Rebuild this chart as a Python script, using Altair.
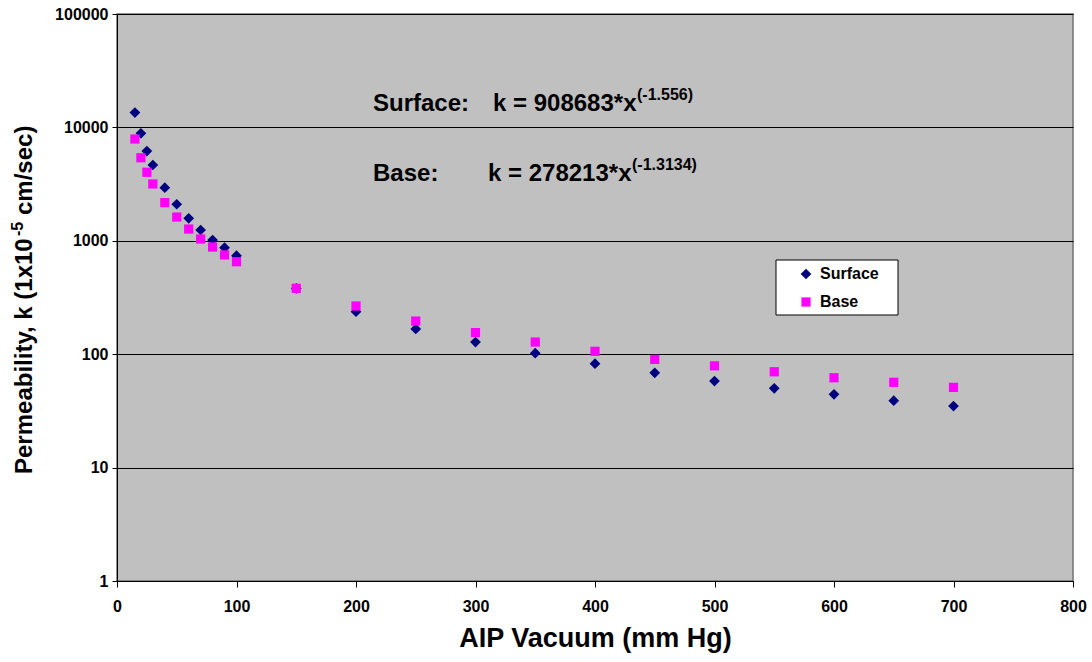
import altair as alt
import pandas as pd

# ---- data ----
vacuum = [15, 20, 25, 30, 40, 50, 60, 70, 80, 90, 100, 150, 200, 250, 300,
          350, 400, 450, 500, 550, 600, 650, 700]
surface_k = [13500, 8870, 6190, 4660, 2940, 2100, 1580, 1245, 1016, 869, 739,
             380, 237, 167, 128, 102, 82.5, 68.5, 58, 50, 44.3, 38.9, 34.9]
base_k = [7900, 5400, 4020, 3170, 2170, 1620, 1270, 1037, 881, 750, 654,
          381, 266, 196, 155, 128, 106, 90, 79, 70, 62, 56.5, 51]

series_names = ["Surface", "Base"]
series_colors = ["#000080", "#FF00FF"]
series_shapes = ["diamond", "square"]
series_sizes = [115, 85]

x_ticks = [0, 100, 200, 300, 400, 500, 600, 700, 800]
y_ticks = [1, 10, 100, 1000, 10000, 100000]

FONT = "Liberation Sans"

df = pd.DataFrame({
    "vacuum": vacuum + vacuum,
    "k": surface_k + base_k,
    "series": [series_names[0]] * len(vacuum) + [series_names[1]] * len(vacuum),
})

legend = alt.Legend(
    title=None, orient="none", legendX=659, legendY=246,
    padding=6, rowPadding=12,
    symbolOffset=16, labelOffset=6, symbolSize=90, symbolStrokeWidth=0,
    labelFont=FONT, labelFontSize=16, labelFontWeight="bold", labelColor="black",
)

dummy = pd.DataFrame({"a": [0]})

# legend frame (white box with black border) behind the legend entries
legend_box = alt.Chart(dummy).mark_rect(
    fill="white", stroke="black", strokeWidth=1
).encode(x=alt.value(659), x2=alt.value(781), y=alt.value(246), y2=alt.value(301))

points = alt.Chart(df).mark_point(filled=True, opacity=1, strokeWidth=0).encode(
    x=alt.X("vacuum:Q",
            scale=alt.Scale(domain=[0, 800], nice=False),
            axis=alt.Axis(values=x_ticks, grid=False, tickSize=6, labelPadding=11,
                          labelFlush=False, labelOverlap=False,
                          title="AIP Vacuum (mm Hg)", titleFontSize=27,
                          titlePadding=11)),
    y=alt.Y("k:Q",
            scale=alt.Scale(type="log", domain=[1, 100000], nice=False),
            axis=alt.Axis(values=y_ticks, format="d", grid=True, gridColor="black",
                          gridWidth=1, tickSize=5, labelPadding=4,
                          labelOverlap=False, title=None)),
    color=alt.Color("series:N",
                    scale=alt.Scale(domain=series_names, range=series_colors),
                    legend=legend),
    shape=alt.Shape("series:N",
                    scale=alt.Scale(domain=series_names, range=series_shapes),
                    legend=legend),
    size=alt.Size("series:N",
                  scale=alt.Scale(domain=series_names, range=series_sizes),
                  legend=None),
)


def label(text, x, y, size, angle=0):
    return alt.Chart(dummy).mark_text(
        text=text, align="left", baseline="alphabetic", fontSize=size,
        fontWeight="bold", font=FONT, color="black", angle=angle,
    ).encode(x=alt.value(x), y=alt.value(y))


texts = [
    label("Surface:", 256, 97, 24),
    label("k = 908683*x", 376, 97, 24),
    label("(-1.556)", 520, 86, 16),
    label("Base:", 256, 167, 24),
    label("k = 278213*x", 371, 167, 24),
    label("(-1.3134)", 515, 156, 16),
    # rotated y-axis title with superscript
    label("Permeability, k (1x10", -85, 460, 24, angle=270),
    label("-5", -94, 222, 16, angle=270),
    label("cm/sec)", -85, 201, 24, angle=270),
]

chart = alt.layer(legend_box, points, *texts).properties(
    width=956, height=567,
    autosize=alt.AutoSizeParams(type="none"),
    padding={"left": 117, "top": 14, "right": 19, "bottom": 81},
    background="white",
).configure_view(
    fill="#C0C0C0", stroke="#707070", strokeWidth=1.5,
).configure_axis(
    labelFont=FONT, labelFontSize=16, labelFontWeight="bold", labelColor="black",
    titleFont=FONT, titleFontWeight="bold", titleColor="black",
    domainColor="black", domainWidth=1, tickColor="black", tickWidth=1,
)

chart.save("out.html", embed_options={"renderer": "svg", "actions": False})
